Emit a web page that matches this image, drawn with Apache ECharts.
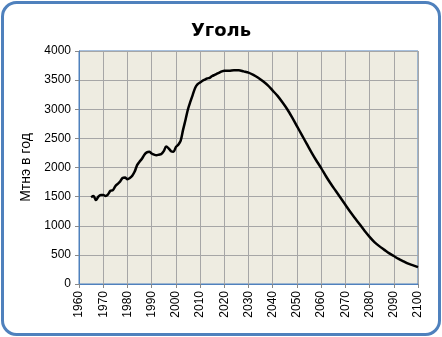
<!DOCTYPE html>
<html>
<head>
<meta charset="utf-8">
<script src="https://cdn.jsdelivr.net/npm/echarts@6/dist/echarts.min.js"></script>
<style>
  html, body { margin: 0; padding: 0; background: #fff; }
  #chart { width: 442px; height: 337px; }
</style>
</head>
<body>
<div id="chart"></div>
<script>
// годы и добыча угля, Мтнэ в год
var years = [1965,1966,1967,1968,1969,1970,1971,1972,1973,1974,1975,1976,1977,1978,1979,
  1980,1981,1982,1983,1984,1985,1986,1987,1988,1989,1990,1991,1992,1993,1994,1995,1996,1997,1998,1999,
  2000,2001,2002,2003,2004,2005,2006,2007,2008,2009,2010,2011,2012,2013,2014,2015,2016,2017,2018,2019,2020,
  2022,2024,2026,2028,2030,2032,2034,2036,2038,2040,2042,2044,2046,2048,2050,
  2052,2054,2056,2058,2060,2062,2064,2066,2068,2070,2072,2074,2076,2078,2080,
  2082,2084,2086,2088,2090,2092,2094,2096,2098,2100];
var coal = [1490,1510,1440,1500,1530,1530,1510,1540,1600,1610,1680,1720,1760,1820,1830,
  1800,1820,1860,1930,2040,2100,2150,2220,2260,2270,2240,2220,2210,2220,2230,2280,2360,2330,2280,2270,
  2350,2390,2460,2650,2820,3000,3130,3250,3370,3430,3460,3490,3510,3530,3540,3570,3590,3610,3630,3650,3660,
  3660,3670,3670,3650,3630,3590,3540,3480,3410,3320,3230,3120,3000,2860,2710,
  2560,2410,2260,2120,1990,1850,1720,1600,1480,1360,1240,1130,1020,910,810,
  720,650,590,530,480,430,390,350,320,290];

var points = [];
for (var i = 0; i < years.length; i++) {
    points.push([years[i], coal[i]]);
}

var myChart = echarts.init(document.getElementById('chart'));
var option = {
    animation: false,
    title: {
        text: 'Уголь',
        left: 'center',
        top: 17,
        textStyle: { fontFamily: 'DejaVu Sans', fontSize: 18, fontWeight: 'bold', color: '#000' }
    },
    graphic: [{
        type: 'rect',
        z: -10,
        silent: true,
        shape: { x: 2.5, y: 2.5, width: 437, height: 332, r: 14 },
        style: { fill: '#fff', stroke: '#4F81BD', lineWidth: 3 }
    }],
    grid: {
        left: 79, top: 51, right: 24, bottom: 53,
        show: true,
        backgroundColor: '#EEECE1',
        borderColor: '#4F81BD',
        borderWidth: 1
    },
    xAxis: {
        type: 'value',
        min: 1960, max: 2100, interval: 10,
        axisLine: { lineStyle: { color: '#4F81BD', width: 1 } },
        axisTick: { show: true, length: 4, lineStyle: { color: '#888' } },
        axisLabel: {
            rotate: 90, margin: 7, color: '#000',
            fontFamily: 'Liberation Sans, Arial', fontSize: 12,
            formatter: function (v) { return String(v); }
        },
        splitLine: { show: true, lineStyle: { color: '#A6A6A6', width: 1 } }
    },
    yAxis: {
        type: 'value',
        min: 0, max: 4000, interval: 500,
        name: 'Мтнэ в год',
        nameLocation: 'middle',
        nameGap: 46,
        nameTextStyle: { fontFamily: 'Liberation Sans, Arial', fontSize: 14, color: '#000' },
        axisLine: { show: true, lineStyle: { color: '#4F81BD', width: 1 } },
        axisTick: { show: true, length: 4, lineStyle: { color: '#888' } },
        axisLabel: {
            margin: 8, color: '#000', fontFamily: 'Liberation Sans, Arial', fontSize: 12,
            formatter: function (v) { return String(v); }
        },
        splitLine: { show: true, lineStyle: { color: '#A6A6A6', width: 1 } }
    },
    series: [{
        name: 'Уголь',
        type: 'line',
        data: points,
        smooth: 0.3,
        showSymbol: false,
        lineStyle: { color: '#000', width: 2.5 }
    }]
};
myChart.setOption(option);
</script>
</body>
</html>
